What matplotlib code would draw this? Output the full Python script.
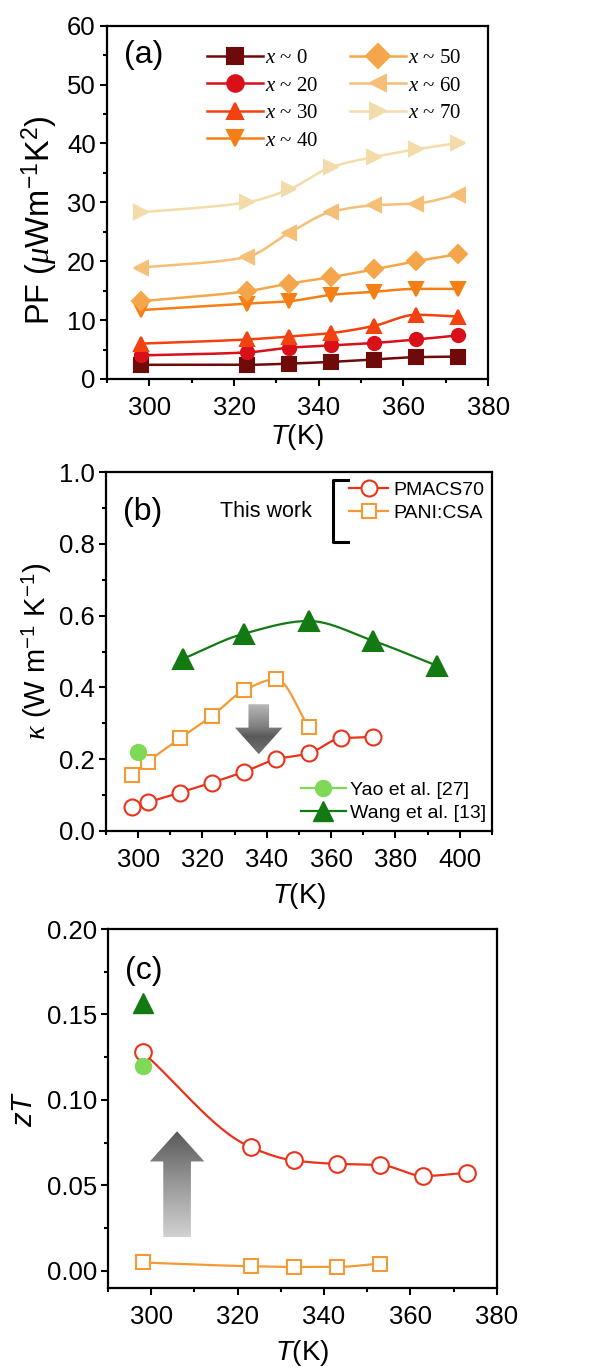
import numpy as np
import matplotlib
matplotlib.use("Agg")
import matplotlib.pyplot as plt
from matplotlib.patches import Polygon
from matplotlib.ticker import MultipleLocator, FormatStrFormatter

plt.rcParams['font.family'] = ['Liberation Sans', 'DejaVu Sans']
plt.rcParams['mathtext.fontset'] = 'custom'
plt.rcParams['mathtext.rm'] = 'Liberation Sans'
plt.rcParams['mathtext.it'] = 'Liberation Serif:italic'
plt.rcParams['mathtext.sf'] = 'Liberation Sans:italic'
plt.rcParams['axes.linewidth'] = 1.6

# ---- (a) power factor vs temperature
temp_a = [298, 323, 333, 343, 353, 363, 373]
pf_x0 = [2.4, 2.4, 2.6, 2.9, 3.3, 3.7, 3.8]
pf_x20 = [4.0, 4.5, 5.3, 5.7, 6.1, 6.7, 7.4]
pf_x30 = [6.0, 6.7, 7.2, 7.8, 9.0, 10.9, 10.6]
pf_x40 = [11.7, 12.8, 13.2, 14.3, 14.8, 15.3, 15.3]
pf_x50 = [13.2, 14.9, 16.2, 17.3, 18.6, 20.0, 21.2]
pf_x60 = [18.9, 20.7, 24.8, 28.4, 29.5, 29.8, 31.3]
pf_x70 = [28.3, 30.0, 32.2, 36.0, 37.7, 39.0, 40.1]
pf_labels = ["0", "20", "30", "40", "50", "60", "70"]
pf_colors = ["#6e0a0a", "#d9101a", "#f2420f", "#f57f17", "#f5a64a", "#f5bf78", "#f3dcaa"]
pf_markers = ["s", "o", "^", "v", "D", "<", ">"]

# ---- (b) thermal conductivity
temp_b = [298, 303, 313, 323, 333, 343, 353, 363, 373]
kappa_pmacs = [0.068, 0.080, 0.107, 0.135, 0.165, 0.200, 0.216, 0.258, 0.262]
temp_b_pani = [298, 303, 313, 323, 333, 343, 353]
kappa_pani = [0.156, 0.193, 0.258, 0.321, 0.392, 0.423, 0.290]
yao_temp_b = [300]
yao_kappa = [0.221]
wang_temp = [314, 333, 353, 373, 393]
wang_kappa = [0.48, 0.55, 0.585, 0.53, 0.46]

# ---- (c) figure of merit
temp_c = [298, 323, 333, 343, 353, 363, 373]
zt_pmacs = [0.128, 0.0724, 0.0646, 0.0626, 0.062, 0.0555, 0.0574]
temp_c_pani = [298, 323, 333, 343, 353]
zt_pani = [0.0049, 0.0027, 0.0023, 0.0023, 0.0043]
yao_temp_c = [298]
yao_zt = [0.120]
wang_temp_c = [298]
wang_zt = [0.157]

RED = "#e8341c"
ORANGE = "#f39a35"
LIGHTGREEN = "#7ed957"
DARKGREEN = "#137a13"


def smooth(x, y, n=40):
    # monotone cubic (Fritsch-Carlson) curve through the points
    x = np.asarray(x, float)
    y = np.asarray(y, float)
    h = np.diff(x)
    d = np.diff(y) / h
    m = np.zeros_like(y)
    m[0], m[-1] = d[0], d[-1]
    for i in range(1, len(x) - 1):
        if d[i - 1] * d[i] > 0:
            w1 = 2 * h[i] + h[i - 1]
            w2 = h[i] + 2 * h[i - 1]
            m[i] = (w1 + w2) / (w1 / d[i - 1] + w2 / d[i])
    xs, ys = [], []
    for i in range(len(x) - 1):
        t = np.linspace(0, 1, n)
        h00 = 2 * t**3 - 3 * t**2 + 1
        h10 = t**3 - 2 * t**2 + t
        h01 = -2 * t**3 + 3 * t**2
        h11 = t**3 - t**2
        xs.append(x[i] + t * h[i])
        ys.append(h00 * y[i] + h10 * h[i] * m[i] + h01 * y[i + 1] + h11 * h[i] * m[i + 1])
    return np.concatenate(xs), np.concatenate(ys)


def curve(ax, x, y, color, marker, ms, filled=True, lw=1.6, label=None, zorder=3):
    sx, sy = smooth(x, y)
    ax.plot(sx, sy, color=color, lw=lw, zorder=zorder)
    face = color if filled else "white"
    ax.plot(x, y, ls="none", marker=marker, ms=ms, mfc=face, mec=color,
            mew=1.5, zorder=zorder + 1)
    # legend proxy
    ax.plot([], [], color=color, lw=lw, marker=marker, ms=ms, mfc=face,
            mec=color, mew=1.5, label=label)


def gradient_arrow(ax, xc, y_tail, y_head, y_tip, shaft_hw, head_hw, stops):
    pts = [(xc - shaft_hw, y_tail), (xc + shaft_hw, y_tail), (xc + shaft_hw, y_head),
           (xc + head_hw, y_head), (xc, y_tip), (xc - head_hw, y_head),
           (xc - shaft_hw, y_head)]
    poly = Polygon(pts, closed=True, facecolor="none", edgecolor="none")
    ax.add_patch(poly)
    ylo, yhi = min(y_tail, y_tip), max(y_tail, y_tip)
    pos = np.linspace(0, 1, 200)
    vals = np.interp(pos, [s[0] for s in stops], [s[1] for s in stops])
    img = np.repeat(vals[:, None], 2, axis=1)
    im = ax.imshow(img, cmap="gray", vmin=0, vmax=1, origin="lower", aspect="auto",
                   extent=(xc - head_hw, xc + head_hw, ylo, yhi), zorder=2,
                   interpolation="bilinear")
    im.set_clip_path(poly)


def style_axes(ax):
    ax.tick_params(which="both", direction="out", top=False, right=False,
                   labelsize=18.5, width=1.5)
    ax.tick_params(which="major", length=5)
    ax.tick_params(which="minor", length=3)
    ax.tick_params(axis="x", pad=7)
    ax.tick_params(axis="y", pad=3)


fig = plt.figure(figsize=(6.03, 13.69), dpi=100)

# ---------------- panel (a)
ax1 = fig.add_axes([0.1774, 0.7232, 0.632, 0.258])
series = [pf_x0, pf_x20, pf_x30, pf_x40, pf_x50, pf_x60, pf_x70]
for vals, lab, col, mk in zip(series, pf_labels, pf_colors, pf_markers):
    curve(ax1, temp_a, vals, col, mk, 9.5, lw=1.8, label=r"$x$ ~ " + lab)
ax1.set_xlim(290, 380)
ax1.set_ylim(0, 60)
ax1.xaxis.set_major_locator(MultipleLocator(20))
ax1.xaxis.set_minor_locator(MultipleLocator(10))
ax1.yaxis.set_major_locator(MultipleLocator(10))
ax1.yaxis.set_minor_locator(MultipleLocator(5))
style_axes(ax1)
ax1.set_ylabel(r"PF ($\mu$Wm$^{-1}$K$^{2}$)", fontsize=23.5, va="center")
ax1.yaxis.set_label_coords(-0.176, 0.45)
ax1.set_xlabel(r"$\mathsf{T}$(K)", fontsize=20, va="center")
ax1.xaxis.set_label_coords(0.5, -0.164)
ax1.text(0.045, 0.918, "(a)", transform=ax1.transAxes, fontsize=23, va="center", ha="left")
ax1.legend(loc="upper left", bbox_to_anchor=(0.235, 0.965), ncol=2, frameon=False,
           prop={"family": "Liberation Serif", "size": 15}, handlelength=2.7,
           handletextpad=0.1, labelspacing=0.38, columnspacing=1.5, borderpad=0,
           markerscale=1.25)

# ---------------- panel (b)
ax2 = fig.add_axes([0.1758, 0.393, 0.640, 0.2622])
curve(ax2, temp_b, kappa_pmacs, RED, "o", 11.5, filled=False, lw=1.6, label="PMACS70")
curve(ax2, temp_b_pani, kappa_pani, ORANGE, "s", 10.5, filled=False, lw=1.6, label="PANI:CSA")
ax2.plot(yao_temp_b, yao_kappa, ls="none", marker="o", ms=11.5, color=LIGHTGREEN, zorder=5)
curve(ax2, wang_temp, wang_kappa, DARKGREEN, "^", 14, lw=1.6, label=None)
gradient_arrow(ax2, 337.5, 0.353, 0.288, 0.214, 3.2, 7.4,
               [(0, 0.45), (0.35, 0.35), (0.55, 0.5), (1, 0.72)])
ax2.set_xlim(290, 410)
ax2.set_ylim(0, 1.0)
ax2.xaxis.set_major_locator(MultipleLocator(20))
ax2.xaxis.set_minor_locator(MultipleLocator(10))
ax2.yaxis.set_major_locator(MultipleLocator(0.2))
ax2.yaxis.set_minor_locator(MultipleLocator(0.1))
ax2.yaxis.set_major_formatter(FormatStrFormatter("%.1f"))
style_axes(ax2)
ax2.set_ylabel(r"$\kappa$ (W m$^{-1}$ K$^{-1}$)", fontsize=21, va="center")
ax2.yaxis.set_label_coords(-0.179, 0.50)
ax2.set_xlabel(r"$\mathsf{T}$(K)", fontsize=20, va="center")
ax2.xaxis.set_label_coords(0.5, -0.181)
ax2.text(0.045, 0.89, "(b)", transform=ax2.transAxes, fontsize=23, va="center", ha="left")

h, l = ax2.get_legend_handles_labels()
leg_work = ax2.legend(h[:2], l[:2], loc="upper left", bbox_to_anchor=(0.63, 0.975),
                      frameon=False, fontsize=14, handlelength=2.0, handletextpad=0.3,
                      labelspacing=0.3, borderpad=0, borderaxespad=0)
ax2.add_artist(leg_work)
ax2.text(0.534, 0.889, "This work", transform=ax2.transAxes, fontsize=15.5,
         va="center", ha="right")
ax2.plot([0.628, 0.588, 0.588, 0.628], [0.978, 0.978, 0.805, 0.805],
         transform=ax2.transAxes, color="black", lw=2.2, clip_on=False)

lit_handles = [
    plt.Line2D([], [], color=LIGHTGREEN, lw=1.6, marker="o", ms=11.5),
    plt.Line2D([], [], color=DARKGREEN, lw=1.6, marker="^", ms=14),
]
ax2.legend(lit_handles, ["Yao et al. [27]", "Wang et al. [13]"], loc="lower left",
           bbox_to_anchor=(0.505, 0.025), frameon=False, fontsize=14, handlelength=2.3,
           handletextpad=0.2, labelspacing=0.3, borderpad=0, borderaxespad=0)

# ---------------- panel (c)
ax3 = fig.add_axes([0.179, 0.0592, 0.645, 0.2622])
curve(ax3, temp_c, zt_pmacs, RED, "o", 12, filled=False, lw=1.6)
curve(ax3, temp_c_pani, zt_pani, ORANGE, "s", 10.5, filled=False, lw=1.6)
ax3.plot(yao_temp_c, yao_zt, ls="none", marker="o", ms=11.5, color=LIGHTGREEN, zorder=6)
ax3.plot(wang_temp_c, wang_zt, ls="none", marker="^", ms=14, color=DARKGREEN, zorder=6)
gradient_arrow(ax3, 306.0, 0.0198, 0.064, 0.0817, 3.2, 6.3,
               [(0, 0.82), (0.5, 0.6), (1, 0.35)])
ax3.set_xlim(290, 380)
ax3.set_ylim(-0.01, 0.20)
ax3.xaxis.set_major_locator(MultipleLocator(20))
ax3.xaxis.set_minor_locator(MultipleLocator(10))
ax3.yaxis.set_major_locator(MultipleLocator(0.05))
ax3.yaxis.set_minor_locator(MultipleLocator(0.025))
ax3.yaxis.set_major_formatter(FormatStrFormatter("%.2f"))
style_axes(ax3)
ax3.set_ylabel(r"$\mathsf{zT}$", fontsize=21, va="center")
ax3.yaxis.set_label_coords(-0.216, 0.50)
ax3.set_xlabel(r"$\mathsf{T}$(K)", fontsize=20, va="center")
ax3.xaxis.set_label_coords(0.5, -0.181)
ax3.text(0.045, 0.882, "(c)", transform=ax3.transAxes, fontsize=23, va="center", ha="left")

fig.savefig("out.png", dpi=100)
